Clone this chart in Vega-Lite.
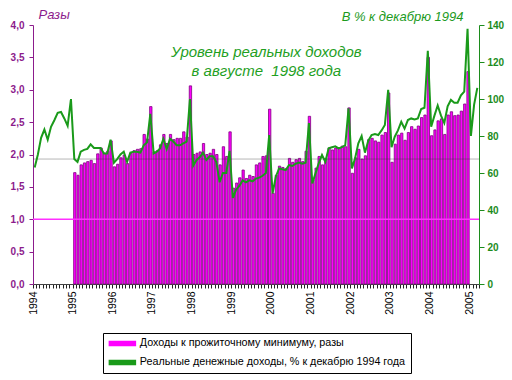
{
  "$schema": "https://vega.github.io/schema/vega-lite/v6.json",
  "width": 446,
  "height": 259,
  "autosize": {"type": "none"},
  "padding": {"left": 33, "top": 25, "right": 33, "bottom": 96},
  "background": "white",
  "config": {
    "font": "Liberation Sans",
    "view": {"stroke": null},
    "axis": {"grid": false},
    "axisLeft": {
      "labelFont": "Liberation Sans",
      "labelFontSize": 10,
      "labelFontWeight": "bold",
      "labelColor": "#8c1b8c",
      "domainColor": "#8c1b8c",
      "tickColor": "#8c1b8c",
      "tickSize": 4,
      "labelPadding": 5,
      "labelOverlap": false,
      "titleAngle": 0,
      "titleFont": "Liberation Sans",
      "titleFontSize": 13,
      "titleFontStyle": "italic",
      "titleFontWeight": "normal",
      "titleColor": "#8c1b8c",
      "titleAlign": "left",
      "titleBaseline": "alphabetic",
      "titleX": 5,
      "titleY": -7
    }
  },
  "datasets": {
    "bars": [
      {"d":"1995-01","v":1.72},{"d":"1995-02","v":1.68},{"d":"1995-03","v":1.84},{"d":"1995-04","v":1.87},{"d":"1995-05","v":1.89},{"d":"1995-06","v":1.91},{"d":"1995-07","v":1.86},{"d":"1995-08","v":2.01},{"d":"1995-09","v":2.10},{"d":"1995-10","v":2.02},{"d":"1995-11","v":2.05},{"d":"1995-12","v":2.21},
      {"d":"1996-01","v":1.81},{"d":"1996-02","v":1.85},{"d":"1996-03","v":1.95},{"d":"1996-04","v":1.99},{"d":"1996-05","v":1.86},{"d":"1996-06","v":2.02},{"d":"1996-07","v":2.06},{"d":"1996-08","v":2.08},{"d":"1996-09","v":2.09},{"d":"1996-10","v":2.31},{"d":"1996-11","v":2.24},{"d":"1996-12","v":2.74},
      {"d":"1997-01","v":2.04},{"d":"1997-02","v":2.06},{"d":"1997-03","v":2.15},{"d":"1997-04","v":2.31},{"d":"1997-05","v":2.17},{"d":"1997-06","v":2.31},{"d":"1997-07","v":2.23},{"d":"1997-08","v":2.25},{"d":"1997-09","v":2.25},{"d":"1997-10","v":2.35},{"d":"1997-11","v":2.27},{"d":"1997-12","v":3.06},
      {"d":"1998-01","v":2.00},{"d":"1998-02","v":2.02},{"d":"1998-03","v":2.04},{"d":"1998-04","v":2.17},{"d":"1998-05","v":2.00},{"d":"1998-06","v":2.02},{"d":"1998-07","v":2.08},{"d":"1998-08","v":2.00},{"d":"1998-09","v":1.84},{"d":"1998-10","v":2.12},{"d":"1998-11","v":1.97},{"d":"1998-12","v":2.35},
      {"d":"1999-01","v":1.48},{"d":"1999-02","v":1.56},{"d":"1999-03","v":1.64},{"d":"1999-04","v":1.76},{"d":"1999-05","v":1.63},{"d":"1999-06","v":1.68},{"d":"1999-07","v":1.66},{"d":"1999-08","v":1.84},{"d":"1999-09","v":1.87},{"d":"1999-10","v":1.97},{"d":"1999-11","v":1.98},{"d":"1999-12","v":2.70},
      {"d":"2000-01","v":1.40},{"d":"2000-02","v":1.68},{"d":"2000-03","v":1.82},{"d":"2000-04","v":1.80},{"d":"2000-05","v":1.78},{"d":"2000-06","v":1.94},{"d":"2000-07","v":1.88},{"d":"2000-08","v":1.92},{"d":"2000-09","v":1.94},{"d":"2000-10","v":1.89},{"d":"2000-11","v":2.05},{"d":"2000-12","v":2.59},
      {"d":"2001-01","v":1.61},{"d":"2001-02","v":1.79},{"d":"2001-03","v":1.97},{"d":"2001-04","v":1.84},{"d":"2001-05","v":1.94},{"d":"2001-06","v":2.10},{"d":"2001-07","v":2.07},{"d":"2001-08","v":2.10},{"d":"2001-09","v":2.10},{"d":"2001-10","v":2.13},{"d":"2001-11","v":2.12},{"d":"2001-12","v":2.72},
      {"d":"2002-01","v":1.71},{"d":"2002-02","v":1.95},{"d":"2002-03","v":2.08},{"d":"2002-04","v":1.93},{"d":"2002-05","v":1.98},{"d":"2002-06","v":2.23},{"d":"2002-07","v":2.25},{"d":"2002-08","v":2.21},{"d":"2002-09","v":2.19},{"d":"2002-10","v":2.30},{"d":"2002-11","v":2.34},{"d":"2002-12","v":2.95},
      {"d":"2003-01","v":1.88},{"d":"2003-02","v":2.16},{"d":"2003-03","v":2.30},{"d":"2003-04","v":2.33},{"d":"2003-05","v":2.22},{"d":"2003-06","v":2.34},{"d":"2003-07","v":2.43},{"d":"2003-08","v":2.39},{"d":"2003-09","v":2.44},{"d":"2003-10","v":2.57},{"d":"2003-11","v":2.61},{"d":"2003-12","v":3.50},
      {"d":"2004-01","v":2.29},{"d":"2004-02","v":2.38},{"d":"2004-03","v":2.52},{"d":"2004-04","v":2.55},{"d":"2004-05","v":2.31},{"d":"2004-06","v":2.61},{"d":"2004-07","v":2.66},{"d":"2004-08","v":2.60},{"d":"2004-09","v":2.61},{"d":"2004-10","v":2.67},{"d":"2004-11","v":2.78},{"d":"2004-12","v":3.28}
    ],
    "line": [
      {"d":"1994-01","v":63},{"d":"1994-02","v":70},{"d":"1994-03","v":79},{"d":"1994-04","v":83.5},{"d":"1994-05","v":78},{"d":"1994-06","v":85},{"d":"1994-07","v":88.5},{"d":"1994-08","v":92.5},{"d":"1994-09","v":93},{"d":"1994-10","v":89.5},{"d":"1994-11","v":85.5},{"d":"1994-12","v":100},
      {"d":"1995-01","v":67.5},{"d":"1995-02","v":66},{"d":"1995-03","v":71.5},{"d":"1995-04","v":72.5},{"d":"1995-05","v":73},{"d":"1995-06","v":75.5},{"d":"1995-07","v":73.5},{"d":"1995-08","v":73.5},{"d":"1995-09","v":73.5},{"d":"1995-10","v":70.5},{"d":"1995-11","v":70.5},{"d":"1995-12","v":78},
      {"d":"1996-01","v":65.5},{"d":"1996-02","v":67.5},{"d":"1996-03","v":70},{"d":"1996-04","v":71.5},{"d":"1996-05","v":66},{"d":"1996-06","v":71},{"d":"1996-07","v":71.5},{"d":"1996-08","v":71.5},{"d":"1996-09","v":71},{"d":"1996-10","v":75},{"d":"1996-11","v":76.5},{"d":"1996-12","v":92},
      {"d":"1997-01","v":70.6},{"d":"1997-02","v":71.5},{"d":"1997-03","v":73.3},{"d":"1997-04","v":78.5},{"d":"1997-05","v":73},{"d":"1997-06","v":78.5},{"d":"1997-07","v":77},{"d":"1997-08","v":75},{"d":"1997-09","v":75},{"d":"1997-10","v":76},{"d":"1997-11","v":77},{"d":"1997-12","v":100},
      {"d":"1998-01","v":64},{"d":"1998-02","v":67},{"d":"1998-03","v":68.5},{"d":"1998-04","v":71},{"d":"1998-05","v":67},{"d":"1998-06","v":69},{"d":"1998-07","v":69},{"d":"1998-08","v":66},{"d":"1998-09","v":55},{"d":"1998-10","v":60},{"d":"1998-11","v":60},{"d":"1998-12","v":72},
      {"d":"1999-01","v":46.5},{"d":"1999-02","v":51},{"d":"1999-03","v":53},{"d":"1999-04","v":56},{"d":"1999-05","v":55},{"d":"1999-06","v":56},{"d":"1999-07","v":55.5},{"d":"1999-08","v":57},{"d":"1999-09","v":57.5},{"d":"1999-10","v":58.5},{"d":"1999-11","v":60},{"d":"1999-12","v":80.5},
      {"d":"2000-01","v":49},{"d":"2000-02","v":58},{"d":"2000-03","v":62.5},{"d":"2000-04","v":62},{"d":"2000-05","v":61.6},{"d":"2000-06","v":64.3},{"d":"2000-07","v":63.8},{"d":"2000-08","v":65},{"d":"2000-09","v":65.6},{"d":"2000-10","v":65},{"d":"2000-11","v":65.6},{"d":"2000-12","v":87},
      {"d":"2001-01","v":54.4},{"d":"2001-02","v":59.8},{"d":"2001-03","v":65.2},{"d":"2001-04","v":69.7},{"d":"2001-05","v":66},{"d":"2001-06","v":73.3},{"d":"2001-07","v":73.9},{"d":"2001-08","v":74.4},{"d":"2001-09","v":73.3},{"d":"2001-10","v":74},{"d":"2001-11","v":75},{"d":"2001-12","v":95},
      {"d":"2002-01","v":62.5},{"d":"2002-02","v":68},{"d":"2002-03","v":76},{"d":"2002-04","v":80},{"d":"2002-05","v":71},{"d":"2002-06","v":77.5},{"d":"2002-07","v":80.5},{"d":"2002-08","v":81},{"d":"2002-09","v":80.5},{"d":"2002-10","v":83},{"d":"2002-11","v":86},{"d":"2002-12","v":105},
      {"d":"2003-01","v":74},{"d":"2003-02","v":79.6},{"d":"2003-03","v":83},{"d":"2003-04","v":87.7},{"d":"2003-05","v":84},{"d":"2003-06","v":88.6},{"d":"2003-07","v":89.5},{"d":"2003-08","v":89},{"d":"2003-09","v":89.5},{"d":"2003-10","v":94.6},{"d":"2003-11","v":95.3},{"d":"2003-12","v":126},
      {"d":"2004-01","v":85},{"d":"2004-02","v":91},{"d":"2004-03","v":96.5},{"d":"2004-04","v":91},{"d":"2004-05","v":87},{"d":"2004-06","v":96},{"d":"2004-07","v":99.5},{"d":"2004-08","v":98},{"d":"2004-09","v":98},{"d":"2004-10","v":102},{"d":"2004-11","v":104},{"d":"2004-12","v":138},
      {"d":"2005-01","v":80},{"d":"2005-02","v":97},{"d":"2005-03","v":106}
    ]
  },
  "layer": [
    {
      "layer": [
        {
          "data": {"name": "bars"},
          "mark": {"type": "bar", "stroke": "#800080", "strokeWidth": 0.8},
          "encoding": {
            "x": {
              "field": "d", "type": "temporal", "timeUnit": "utcyearmonth",
              "scale": {"type": "utc", "domain": [{"year": 1994, "month": 1, "date": 1, "utc": true}, {"year": 2005, "month": 4, "date": 1, "utc": true}]},
              "axis": {
                "title": null,
                "tickCount": {"interval": "month", "step": 1},
                "labelExpr": "utcmonth(datum.value) === 0 ? utcFormat(datum.value, '%Y') : ''",
                "labelAngle": -90,
                "labelOverlap": false,
                "labelFlush": false,
                "labelBound": false,
                "labelFontSize": 10.5,
                "labelColor": "#000000",
                "labelPadding": 3,
                "tickSize": 4,
                "tickColor": "#222222",
                "domainColor": "#444444"
              }
            },
            "y": {
              "field": "v", "type": "quantitative",
              "scale": {"domain": [0, 4], "nice": false},
              "axis": {
                "orient": "left",
                "values": [0, 0.5, 1, 1.5, 2, 2.5, 3, 3.5, 4],
                "labelExpr": "replace(format(datum.value, '.1f'), '.', ',')",
                "title": "Разы"
              }
            },
            "color": {
              "datum": "Доходы к прожиточному минимуму, разы",
              "scale": {
                "domain": ["Доходы к прожиточному минимуму, разы", "Реальные денежные доходы, % к декабрю 1994 года"],
                "range": ["#ff00ff", "#1a9a1a"]
              },
              "legend": {
                "orient": "none",
                "legendX": 70,
                "legendY": 308,
                "direction": "vertical",
                "title": null,
                "strokeColor": "#000000",
                "fillColor": "#ffffff",
                "padding": 5,
                "rowPadding": 7,
                "symbolType": "M-1,-0.5H5.5V0.5H-1Z",
                "symbolSize": 64,
                "labelOffset": 21,
                "labelLimit": 400,
                "labelFont": "Liberation Sans",
                "labelFontSize": 10.75,
                "labelColor": "#000000",
                "encode": {
                  "symbols": {
                    "update": {
                      "fill": {"signal": "datum.index === 0 ? '#ff00ff' : '#1a9a1a'"},
                      "stroke": {"signal": "datum.index === 0 ? '#800080' : '#1a9a1a'"},
                      "strokeWidth": {"signal": "datum.index === 0 ? 1 : 0.2"},
                      "opacity": {"value": 1}
                    }
                  }
                }
              }
            }
          }
        },
        {
          "data": {"values": [{}]},
          "mark": {"type": "rule", "color": "#ff30ff", "strokeWidth": 1.5},
          "encoding": {
            "y": {
              "datum": 1,
              "scale": {"domain": [0, 4], "nice": false},
              "axis": {
                "orient": "left",
                "values": [0, 0.5, 1, 1.5, 2, 2.5, 3, 3.5, 4],
                "labelExpr": "replace(format(datum.value, '.1f'), '.', ',')",
                "title": "Разы"
              }
            }
          }
        },
        {
          "data": {"values": [{}]},
          "mark": {"type": "rule", "color": "#2a2a2a", "strokeWidth": 1, "opacity": 0.35},
          "encoding": {
            "y": {
              "datum": 1.93,
              "scale": {"domain": [0, 4], "nice": false},
              "axis": {
                "orient": "left",
                "values": [0, 0.5, 1, 1.5, 2, 2.5, 3, 3.5, 4],
                "labelExpr": "replace(format(datum.value, '.1f'), '.', ',')",
                "title": "Разы"
              }
            }
          }
        },
        {
          "data": {"values": [{}]},
          "mark": {"type": "text", "align": "center", "baseline": "alphabetic", "font": "Liberation Sans", "fontSize": 15, "fontStyle": "italic", "color": "#1fa01f", "lineHeight": 19},
          "encoding": {
            "x": {"datum": {"year": 1999, "month": 11, "date": 20, "utc": true}, "type": "temporal"},
            "y": {
              "datum": 3.5,
              "scale": {"domain": [0, 4], "nice": false},
              "axis": {
                "orient": "left",
                "values": [0, 0.5, 1, 1.5, 2, 2.5, 3, 3.5, 4],
                "labelExpr": "replace(format(datum.value, '.1f'), '.', ',')",
                "title": "Разы"
              }
            },
            "text": {"value": ["Уровень реальных доходов", "в августе\u00a0 1998 года"]}
          }
        }
      ]
    },
    {
      "data": {"name": "line"},
      "mark": {"type": "line", "strokeWidth": 2},
      "encoding": {
        "x": {
          "field": "d", "type": "temporal", "timeUnit": "utcyearmonth", "bandPosition": 0.5,
          "scale": {"type": "utc", "domain": [{"year": 1994, "month": 1, "date": 1, "utc": true}, {"year": 2005, "month": 4, "date": 1, "utc": true}]}
        },
        "y": {
          "field": "v", "type": "quantitative",
          "scale": {"domain": [0, 140], "nice": false},
          "axis": {
            "orient": "right",
            "values": [0, 20, 40, 60, 80, 100, 120, 140],
            "labelFont": "Liberation Sans",
            "labelFontSize": 10,
            "labelFontWeight": "bold",
            "labelColor": "#1c8c1c",
            "domainColor": "#1c8c1c",
            "tickColor": "#1c8c1c",
            "tickSize": 5,
            "labelPadding": 3,
            "title": "В % к декабрю 1994",
            "titleAngle": 0,
            "titleFont": "Liberation Sans",
            "titleFontSize": 13,
            "titleFontStyle": "italic",
            "titleFontWeight": "normal",
            "titleColor": "#1c9a1c",
            "titleAlign": "right",
            "titleBaseline": "alphabetic",
            "titleX": -16,
            "titleY": -5
          }
        },
        "color": {"datum": "Реальные денежные доходы, % к декабрю 1994 года"}
      }
    }
  ],
  "resolve": {"scale": {"y": "independent"}, "axis": {"y": "independent"}}
}
